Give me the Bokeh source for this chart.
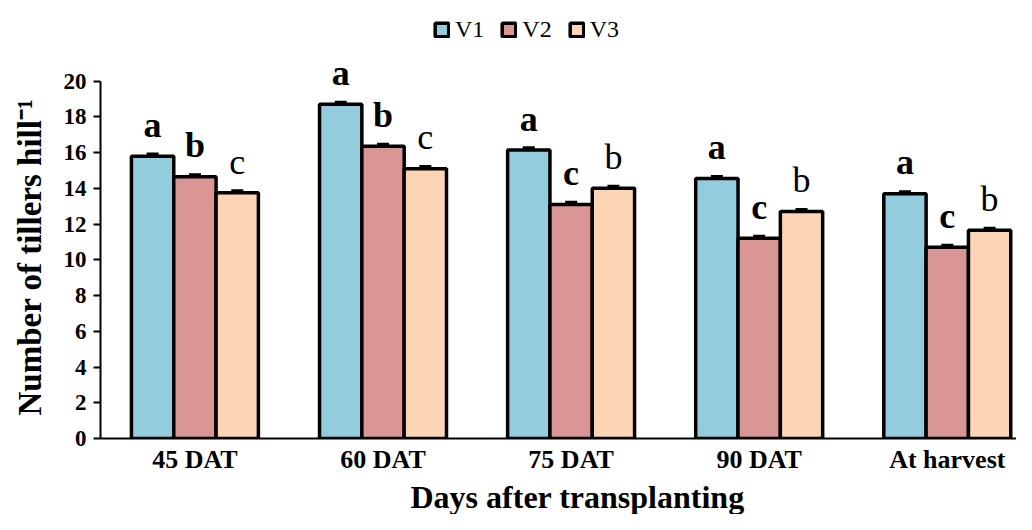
import numpy as np
from bokeh.plotting import figure
from bokeh.models import (ColumnDataSource, Range1d, FixedTicker, Whisker,
                          TeeHead, Legend, LegendItem, Title)
from bokeh.core.properties import value
from bokeh.embed import file_html
from bokeh.resources import INLINE

# ---------------- data ----------------
categories = ["45 DAT", "60 DAT", "75 DAT", "90 DAT", "At harvest"]
series_names = ["V1", "V2", "V3"]
v1 = [15.8, 18.7, 16.15, 14.55, 13.7]
v2 = [14.65, 16.35, 13.1, 11.2, 10.7]
v3 = [13.75, 15.1, 14.0, 12.7, 11.65]
v1_err = [0.1, 0.1, 0.1, 0.1, 0.1]
v2_err = [0.1, 0.1, 0.1, 0.1, 0.1]
v3_err = [0.1, 0.1, 0.1, 0.1, 0.1]
v1_letters = ["a", "a", "a", "a", "a"]
v2_letters = ["b", "b", "c", "c", "c"]
v3_letters = ["c", "c", "b", "b", "b"]
y_ticks = [0, 2, 4, 6, 8, 10, 12, 14, 16, 18, 20]

colors = ["#93CDDD", "#D99694", "#FCD5B5"]
letter_styles = ["bold", "bold", "normal"]
FONT = "Liberation Serif"

p = figure(width=1016, height=514,
           x_range=Range1d(-0.502, 4.368), y_range=Range1d(0, 23.67),
           output_backend="svg", toolbar_location=None,
           min_border_left=100, min_border_right=0,
           min_border_top=15, min_border_bottom=76)

xs = np.arange(len(categories))
bar_w = 0.225
legend_items = []
all_vals = [v1, v2, v3]
all_errs = [v1_err, v2_err, v3_err]
all_letters = [v1_letters, v2_letters, v3_letters]

for j in range(3):
    vals = np.array(all_vals[j])
    errs = np.array(all_errs[j])
    src = ColumnDataSource(dict(
        x=xs + (j - 1) * bar_w,
        top=vals,
        upper=vals + errs,
        lower=vals - errs,
        ly=vals + 1.75,
        lab=all_letters[j],
    ))
    r = p.vbar(x="x", top="top", width=bar_w, bottom=0, source=src,
               fill_color=colors[j], line_color="black", line_width=3.5)
    legend_items.append(LegendItem(label=series_names[j], renderers=[r]))
    w = Whisker(base="x", upper="upper", lower="lower", source=src,
                line_color="black", line_width=3.5,
                upper_head=TeeHead(size=12, line_width=3.5, line_color="black"),
                lower_head=TeeHead(size=12, line_width=3.5, line_color="black"))
    p.add_layout(w)
    p.text(x="x", y="ly", text="lab", source=src,
           text_font=value(FONT), text_font_size="36px",
           text_font_style=letter_styles[j],
           text_align="center", text_baseline="alphabetic", text_color="black")

legend = Legend(items=legend_items, orientation="horizontal",
                location=(333, 395),
                background_fill_alpha=0, border_line_alpha=0,
                padding=0, spacing=16, margin=0,
                glyph_width=17, glyph_height=17, label_standoff=5,
                label_text_font=FONT, label_text_font_size="24px",
                label_text_color="black")
p.add_layout(legend)

# axes
p.xgrid.visible = False
p.ygrid.visible = False
p.outline_line_color = None

xa = p.xaxis[0]
xa.ticker = FixedTicker(ticks=list(xs))
xa.major_label_overrides = {int(i): c for i, c in zip(xs, categories)}
xa.major_tick_out = 0
xa.major_tick_in = 0
xa.minor_tick_out = 0
xa.minor_tick_in = 0
xa.axis_line_width = 2
xa.axis_line_color = "black"
xa.major_label_text_font = FONT
xa.major_label_text_font_style = "bold"
xa.major_label_text_font_size = "26px"
xa.major_label_text_color = "black"
xa.major_label_standoff = 6

ya = p.yaxis[0]
ya.ticker = FixedTicker(ticks=y_ticks)
ya.bounds = (0, 20)
ya.major_tick_out = 7
ya.major_tick_in = 0
ya.minor_tick_out = 0
ya.minor_tick_in = 0
ya.major_tick_line_width = 2
ya.major_tick_line_color = "black"
ya.axis_line_width = 2
ya.axis_line_color = "black"
ya.major_label_text_font = FONT
ya.major_label_text_font_style = "bold"
ya.major_label_text_font_size = "23px"
ya.major_label_text_color = "black"
ya.major_label_standoff = 7

xtitle = Title(text="Days after transplanting", align="left", offset=310,
               text_font=FONT, text_font_style="bold", text_font_size="32px",
               text_color="black", standoff=0)
p.add_layout(xtitle, "below")

ytitle = Title(text="Number of tillers hill\u207b\u00b9", align="left", offset=23,
               vertical_align="top",
               text_font=FONT, text_font_style="bold", text_font_size="33px",
               text_color="black", standoff=22)
p.add_layout(ytitle, "left")

open("out.html", "w").write(file_html(p, INLINE))
